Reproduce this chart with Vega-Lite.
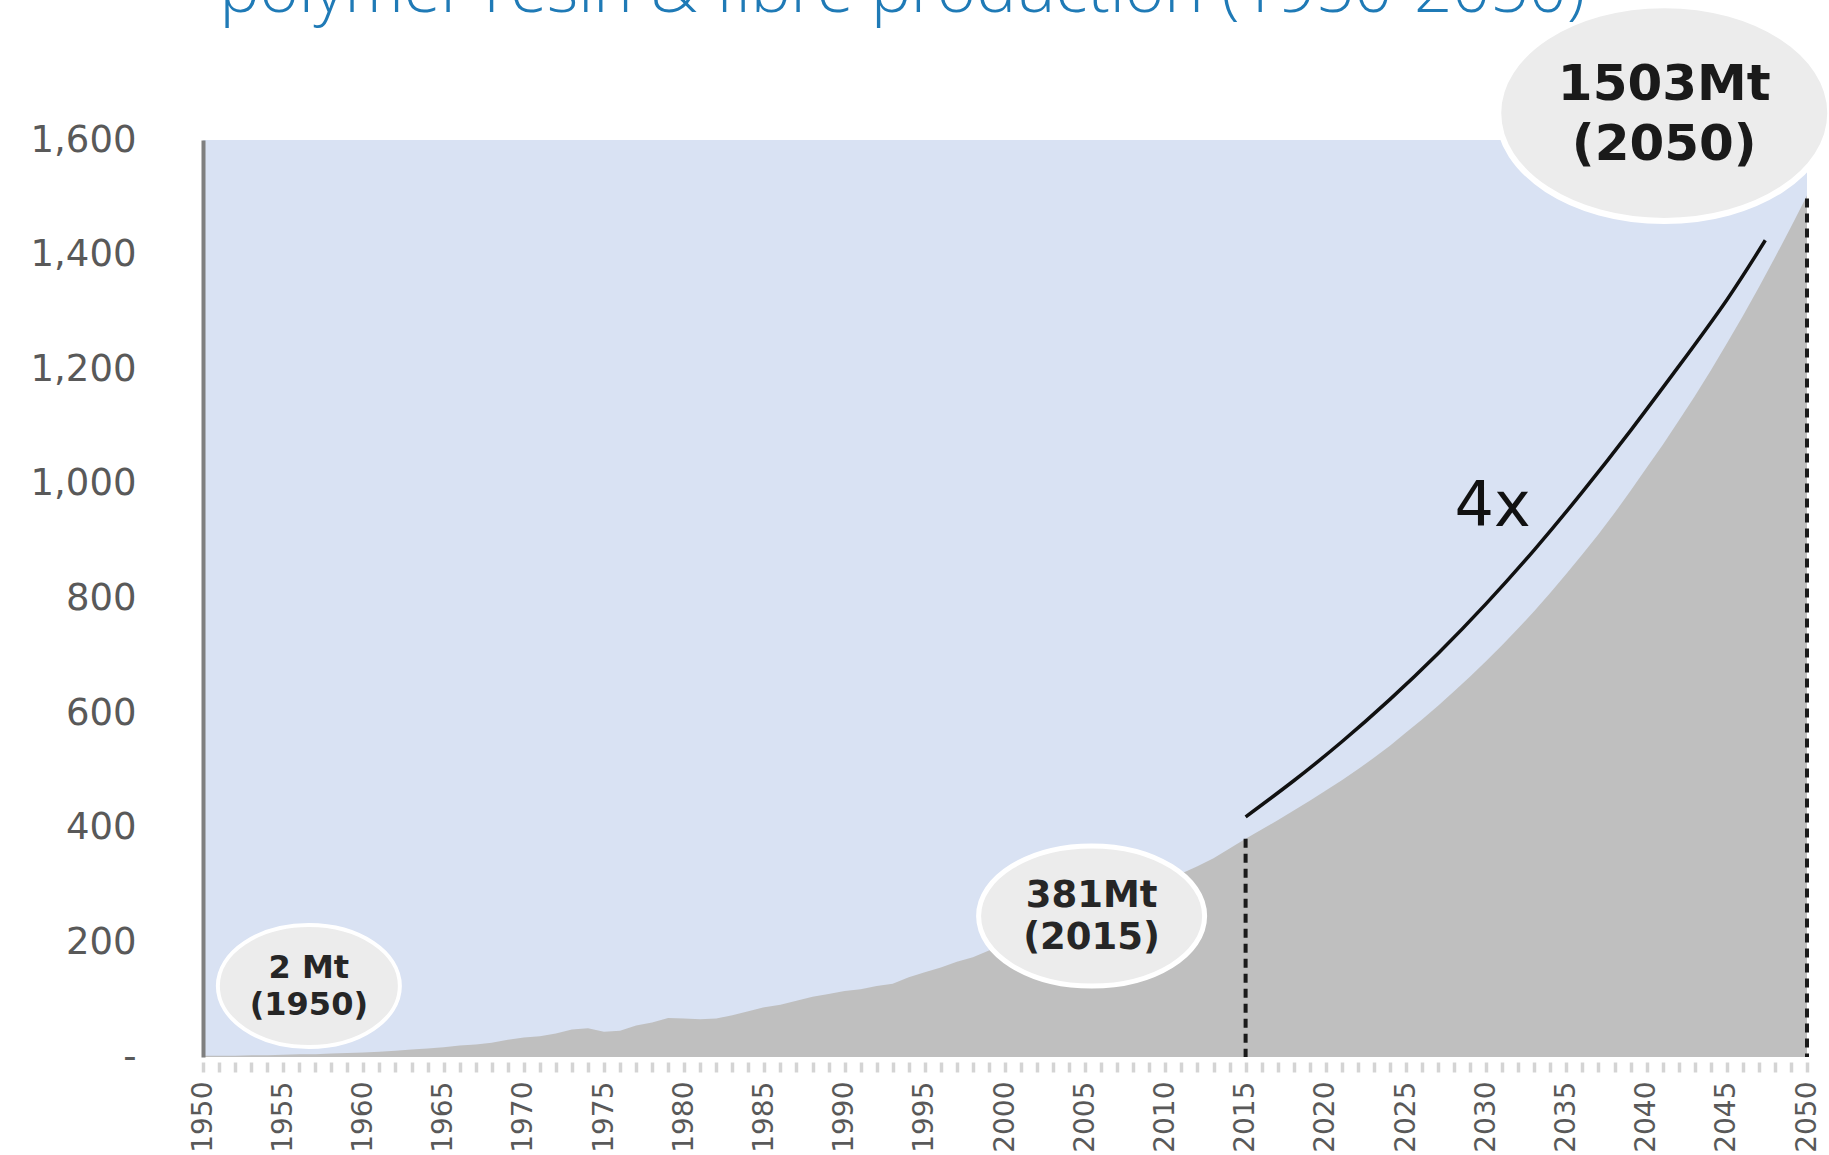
{
  "$schema": "https://vega.github.io/schema/vega-lite/v6.json",
  "autosize": "none",
  "width": 1604,
  "height": 917,
  "padding": {"left": 203, "top": 140, "right": 22, "bottom": 98},
  "background": "white",
  "config": {"view": {"stroke": null}},
  "encoding": {
    "x": {
      "field": "year", "type": "quantitative",
      "scale": {"domain": [1950, 2050], "nice": false, "zero": false},
      "axis": {
        "title": null, "tickCount": 100,
        "labelExpr": "datum.value % 5 === 0 ? format(datum.value, 'd') : ''",
        "labelAngle": -90, "labelAlign": "right", "labelBaseline": "middle",
        "domain": false, "grid": false, "ticks": true, "tickSize": 10, "tickWidth": 3.5,
        "tickColor": "#d4d4d4", "offset": 5, "labelPadding": 9,
        "labelFont": "DejaVu Sans", "labelFontSize": 28, "labelColor": "#595959",
        "labelOverlap": false, "labelFlush": false, "labelBound": false
      }
    },
    "y": {
      "field": "value", "type": "quantitative",
      "scale": {"domain": [0, 1600], "nice": false, "zero": true},
      "axis": {
        "title": null, "values": [0, 200, 400, 600, 800, 1000, 1200, 1400, 1600],
        "labelExpr": "datum.value === 0 ? '-' : format(datum.value, ',')",
        "domain": true, "domainColor": "#7f7f7f", "domainWidth": 4,
        "ticks": false, "grid": false, "labelPadding": 67,
        "labelFont": "DejaVu Sans", "labelFontSize": 37, "labelColor": "#595959",
        "zindex": 1, "labelFlush": false, "labelOverlap": false
      }
    }
  },
  "layer": [
    {
      "data": {"values": [{"year": 1950, "year_end": 2050, "value": 1600, "base": 0}]},
      "mark": {"type": "rect", "color": "#d9e2f3"},
      "encoding": {"x2": {"field": "year_end"}, "y2": {"field": "base"}}
    },
    {
      "data": {"values": [
        {"year": 1950, "value": 2}, {"year": 1951, "value": 2}, {"year": 1952, "value": 2}, {"year": 1953, "value": 3}, {"year": 1954, "value": 3},
        {"year": 1955, "value": 4}, {"year": 1956, "value": 5}, {"year": 1957, "value": 5}, {"year": 1958, "value": 6}, {"year": 1959, "value": 7},
        {"year": 1960, "value": 8}, {"year": 1961, "value": 9}, {"year": 1962, "value": 11}, {"year": 1963, "value": 13}, {"year": 1964, "value": 15},
        {"year": 1965, "value": 17}, {"year": 1966, "value": 20}, {"year": 1967, "value": 22}, {"year": 1968, "value": 25}, {"year": 1969, "value": 30},
        {"year": 1970, "value": 34}, {"year": 1971, "value": 36}, {"year": 1972, "value": 41}, {"year": 1973, "value": 48}, {"year": 1974, "value": 50},
        {"year": 1975, "value": 44}, {"year": 1976, "value": 46}, {"year": 1977, "value": 55}, {"year": 1978, "value": 60}, {"year": 1979, "value": 68},
        {"year": 1980, "value": 67}, {"year": 1981, "value": 66}, {"year": 1982, "value": 67}, {"year": 1983, "value": 73}, {"year": 1984, "value": 80},
        {"year": 1985, "value": 87}, {"year": 1986, "value": 91}, {"year": 1987, "value": 98}, {"year": 1988, "value": 105}, {"year": 1989, "value": 110},
        {"year": 1990, "value": 115}, {"year": 1991, "value": 118}, {"year": 1992, "value": 124}, {"year": 1993, "value": 128}, {"year": 1994, "value": 139},
        {"year": 1995, "value": 148}, {"year": 1996, "value": 156}, {"year": 1997, "value": 166}, {"year": 1998, "value": 174}, {"year": 1999, "value": 186},
        {"year": 2000, "value": 196}, {"year": 2001, "value": 203}, {"year": 2002, "value": 213}, {"year": 2003, "value": 225}, {"year": 2004, "value": 237},
        {"year": 2005, "value": 249}, {"year": 2006, "value": 261}, {"year": 2007, "value": 274}, {"year": 2008, "value": 278}, {"year": 2009, "value": 286},
        {"year": 2010, "value": 305}, {"year": 2011, "value": 320}, {"year": 2012, "value": 333}, {"year": 2013, "value": 347}, {"year": 2014, "value": 364},
        {"year": 2015, "value": 381}, {"year": 2016, "value": 397}, {"year": 2017, "value": 413}, {"year": 2018, "value": 430}, {"year": 2019, "value": 447},
        {"year": 2020, "value": 465}, {"year": 2021, "value": 483}, {"year": 2022, "value": 502}, {"year": 2023, "value": 522}, {"year": 2024, "value": 543},
        {"year": 2025, "value": 566}, {"year": 2026, "value": 589}, {"year": 2027, "value": 613}, {"year": 2028, "value": 638}, {"year": 2029, "value": 664},
        {"year": 2030, "value": 691}, {"year": 2031, "value": 719}, {"year": 2032, "value": 748}, {"year": 2033, "value": 778}, {"year": 2034, "value": 810},
        {"year": 2035, "value": 843}, {"year": 2036, "value": 877}, {"year": 2037, "value": 912}, {"year": 2038, "value": 949}, {"year": 2039, "value": 988},
        {"year": 2040, "value": 1028}, {"year": 2041, "value": 1068}, {"year": 2042, "value": 1110}, {"year": 2043, "value": 1153}, {"year": 2044, "value": 1198},
        {"year": 2045, "value": 1245}, {"year": 2046, "value": 1293}, {"year": 2047, "value": 1343}, {"year": 2048, "value": 1395}, {"year": 2049, "value": 1448},
        {"year": 2050, "value": 1503}
      ]},
      "mark": {"type": "area", "color": "#bfbfbf", "opacity": 1}
    },
    {
      "data": {"values": [{"year": 2015, "value": 381}, {"year": 2050, "value": 1498}]},
      "mark": {"type": "rule", "color": "#1a1a1a", "strokeWidth": 4, "strokeDash": [9, 6]},
      "encoding": {"y2": {"datum": 0}}
    },
    {
      "data": {"values": [
        {"year": 2015, "value": 419}, {"year": 2018, "value": 482}, {"year": 2021, "value": 550},
        {"year": 2024, "value": 624}, {"year": 2027, "value": 704}, {"year": 2030, "value": 791},
        {"year": 2033, "value": 885}, {"year": 2036, "value": 986}, {"year": 2039, "value": 1093},
        {"year": 2042, "value": 1205}, {"year": 2045, "value": 1321}, {"year": 2047.4, "value": 1425}
      ]},
      "mark": {"type": "line", "color": "#111111", "strokeWidth": 3.5, "interpolate": "natural"}
    },
    {
      "data": {"values": [{"year": 1956.6, "value": 124}]},
      "mark": {"type": "point", "shape": "M -1 0 A 1 0.67 0 1 0 1 0 A 1 0.67 0 1 0 -1 0 Z", "size": 33124, "filled": true, "fill": "#ececec", "stroke": "#ffffff", "strokeWidth": 4, "opacity": 1, "fillOpacity": 1, "strokeOpacity": 1}
    },
    {
      "data": {"values": [{"year": 2005.4, "value": 246}]},
      "mark": {"type": "point", "shape": "M -1 0 A 1 0.62 0 1 0 1 0 A 1 0.62 0 1 0 -1 0 Z", "size": 51076, "filled": true, "fill": "#ececec", "stroke": "#ffffff", "strokeWidth": 5, "opacity": 1, "fillOpacity": 1, "strokeOpacity": 1}
    },
    {
      "data": {"values": [{"year": 2041.1, "value": 1647}]},
      "mark": {"type": "point", "shape": "M -1 0 A 1 0.65 0 1 0 1 0 A 1 0.65 0 1 0 -1 0 Z", "size": 110224, "filled": true, "fill": "#ececec", "stroke": "#ffffff", "strokeWidth": 6, "opacity": 1, "fillOpacity": 1, "strokeOpacity": 1}
    },
    {
      "data": {"values": [{"year": 1956.6, "value": 124, "label": "2 Mt\n(1950)"}]},
      "mark": {"type": "text", "font": "DejaVu Sans", "fontWeight": "bold", "fontSize": 32, "lineHeight": 37, "lineBreak": "\n", "color": "#262626", "align": "center", "baseline": "middle", "dy": -18},
      "encoding": {"text": {"field": "label"}}
    },
    {
      "data": {"values": [{"year": 2005.4, "value": 246, "label": "381Mt\n(2015)"}]},
      "mark": {"type": "text", "font": "DejaVu Sans", "fontWeight": "bold", "fontSize": 37, "lineHeight": 42, "lineBreak": "\n", "color": "#262626", "align": "center", "baseline": "middle", "dy": -20},
      "encoding": {"text": {"field": "label"}}
    },
    {
      "data": {"values": [{"year": 2041.1, "value": 1647, "label": "1503Mt\n(2050)"}]},
      "mark": {"type": "text", "font": "DejaVu Sans", "fontWeight": "bold", "fontSize": 50, "lineHeight": 60, "lineBreak": "\n", "color": "#1a1a1a", "align": "center", "baseline": "middle", "dy": -28},
      "encoding": {"text": {"field": "label"}}
    },
    {
      "data": {"values": [{"year": 2030.4, "value": 960, "label": "4x"}]},
      "mark": {"type": "text", "font": "DejaVu Sans", "fontSize": 62, "color": "#111111", "align": "center", "baseline": "middle"},
      "encoding": {"text": {"field": "label"}}
    },
    {
      "data": {"values": [{"year": 1993.6, "value": 1823, "label": "polymer resin & fibre production (1950-2050)"}]},
      "mark": {"type": "text", "font": "Open Sans", "fontWeight": 300, "fontSize": 67, "color": "#1f7ab6", "align": "center", "baseline": "alphabetic"},
      "encoding": {"text": {"field": "label"}}
    }
  ]
}
